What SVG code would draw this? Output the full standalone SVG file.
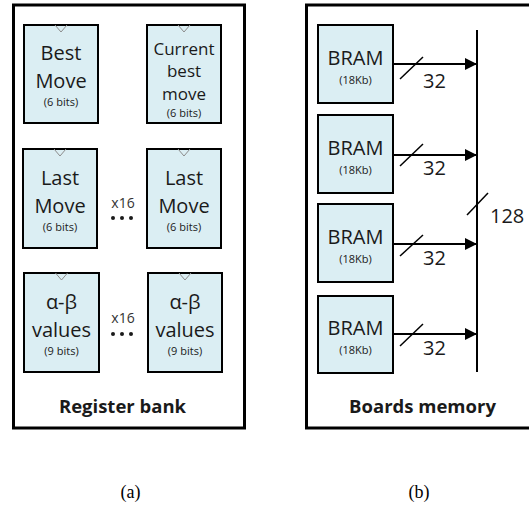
<svg xmlns="http://www.w3.org/2000/svg" width="529" height="506" viewBox="0 0 529 506">
<style>
.frame{fill:#fff;stroke:#000;stroke-width:3}
.reg{fill:#dbeef3;stroke:#000;stroke-width:2}
.clk{fill:none;stroke:#8c8c8c;stroke-width:1}
.t{font-family:"Open Sans","Noto Sans",sans-serif;fill:#1a1a1a;text-anchor:middle}
.big{font-size:20px}
.mid{font-size:17px}
.sm{font-size:11px}
.ttl{font-size:18.5px;font-weight:bold}
.x16{font-size:14px;fill:#333}
.dot{fill:#1a1a1a}
.lbl{font-family:"Open Sans","Noto Sans",sans-serif;font-size:20px;fill:#1a1a1a}
.cap{font-family:"Liberation Serif",serif;font-size:18px;fill:#000;text-anchor:middle}
.wire{stroke:#000;stroke-width:2;fill:none}
.sl{stroke:#000;stroke-width:1.5}
</style>
<defs>
<marker id="ah" markerWidth="12" markerHeight="12" refX="12" refY="6" orient="auto" markerUnits="userSpaceOnUse">
<path d="M0,0 L12,6 L0,12 Z" fill="#000"/>
</marker>
</defs>

<g id="register-bank">
<rect class="frame" x="13.5" y="5" width="231" height="423"/>
<text class="t ttl" x="122.5" y="413">Register bank</text>
</g>
<g id="boards-memory">
<rect class="frame" x="306.5" y="5" width="240" height="423"/>
<text class="t ttl" x="422.5" y="413">Boards memory</text>
</g>

<g id="best-move">
<rect class="reg" x="24" y="25" width="74" height="98"/>
<path class="clk" d="M55,25 L61,32 L67,25"/>
<text class="t big" x="61" y="60">Best</text>
<text class="t big" x="61" y="88">Move</text>
<text class="t sm" x="61" y="106">(6 bits)</text>
</g>
<g id="current-best-move">
<rect class="reg" x="147" y="25" width="74" height="98"/>
<path class="clk" d="M178,25 L184,32 L190,25"/>
<text class="t mid" x="184" y="55">Current</text>
<text class="t mid" x="184" y="77">best</text>
<text class="t mid" x="184" y="100">move</text>
<text class="t sm" x="184" y="117">(6 bits)</text>
</g>
<g id="last-move-1">
<rect class="reg" x="23" y="149" width="74" height="99"/>
<path class="clk" d="M54,149 L60,156 L66,149"/>
<text class="t big" x="60" y="185">Last</text>
<text class="t big" x="60" y="213">Move</text>
<text class="t sm" x="60" y="231">(6 bits)</text>
</g>
<g id="last-move-16">
<rect class="reg" x="147" y="149" width="74" height="99"/>
<path class="clk" d="M178,149 L184,156 L190,149"/>
<text class="t big" x="184" y="185">Last</text>
<text class="t big" x="184" y="213">Move</text>
<text class="t sm" x="184" y="231">(6 bits)</text>
</g>
<g id="ab-values-1">
<rect class="reg" x="24" y="273" width="75" height="99"/>
<path class="clk" d="M55.5,273 L61.5,280 L67.5,273"/>
<text class="t big" x="61.5" y="309">α-β</text>
<text class="t big" x="61.5" y="337">values</text>
<text class="t sm" x="61.5" y="355">(9 bits)</text>
</g>
<g id="ab-values-16">
<rect class="reg" x="148" y="273" width="74" height="99"/>
<path class="clk" d="M179,273 L185,280 L191,273"/>
<text class="t big" x="185" y="309">α-β</text>
<text class="t big" x="185" y="337">values</text>
<text class="t sm" x="185" y="355">(9 bits)</text>
</g>
<g id="repeat-marks">
<text class="t x16" x="123" y="208">x16</text>
<circle class="dot" cx="113" cy="218" r="2"/>
<circle class="dot" cx="122" cy="218" r="2"/>
<circle class="dot" cx="131" cy="218" r="2"/>
<text class="t x16" x="123" y="323">x16</text>
<circle class="dot" cx="113" cy="334" r="2"/>
<circle class="dot" cx="122" cy="334" r="2"/>
<circle class="dot" cx="131" cy="334" r="2"/>
</g>

<g id="bram-1">
<rect class="reg" x="318" y="25" width="75" height="78"/>
<text class="t big" x="355.5" y="65">BRAM</text>
<text class="t sm" x="355.5" y="84">(18Kb)</text>
</g>
<g id="bram-2">
<rect class="reg" x="318" y="115" width="75" height="78"/>
<text class="t big" x="355.5" y="155">BRAM</text>
<text class="t sm" x="355.5" y="174">(18Kb)</text>
</g>
<g id="bram-3">
<rect class="reg" x="318" y="204" width="75" height="78"/>
<text class="t big" x="355.5" y="244">BRAM</text>
<text class="t sm" x="355.5" y="263">(18Kb)</text>
</g>
<g id="bram-4">
<rect class="reg" x="318" y="296" width="75" height="77"/>
<text class="t big" x="355.5" y="335">BRAM</text>
<text class="t sm" x="355.5" y="354">(18Kb)</text>
</g>

<g id="connectors">
<line class="wire" x1="477" y1="30" x2="477" y2="372"/>
<line class="sl" x1="467" y1="215" x2="488" y2="193"/>
<text class="lbl" x="490" y="223">128</text>
<line class="wire" x1="393" y1="64" x2="477" y2="64" marker-end="url(#ah)"/>
<line class="sl" x1="400" y1="79" x2="423" y2="57"/>
<text class="lbl" x="423" y="88">32</text>
<line class="wire" x1="393" y1="155" x2="477" y2="155" marker-end="url(#ah)"/>
<line class="sl" x1="400" y1="166" x2="423" y2="144"/>
<text class="lbl" x="423" y="175">32</text>
<line class="wire" x1="393" y1="244" x2="477" y2="244" marker-end="url(#ah)"/>
<line class="sl" x1="400" y1="256" x2="423" y2="235"/>
<text class="lbl" x="423" y="265">32</text>
<line class="wire" x1="393" y1="334" x2="477" y2="334" marker-end="url(#ah)"/>
<line class="sl" x1="400" y1="346" x2="423" y2="324"/>
<text class="lbl" x="423" y="355">32</text>
</g>

<text class="cap" x="130.5" y="498">(a)</text>
<text class="cap" x="419" y="498">(b)</text>
</svg>
